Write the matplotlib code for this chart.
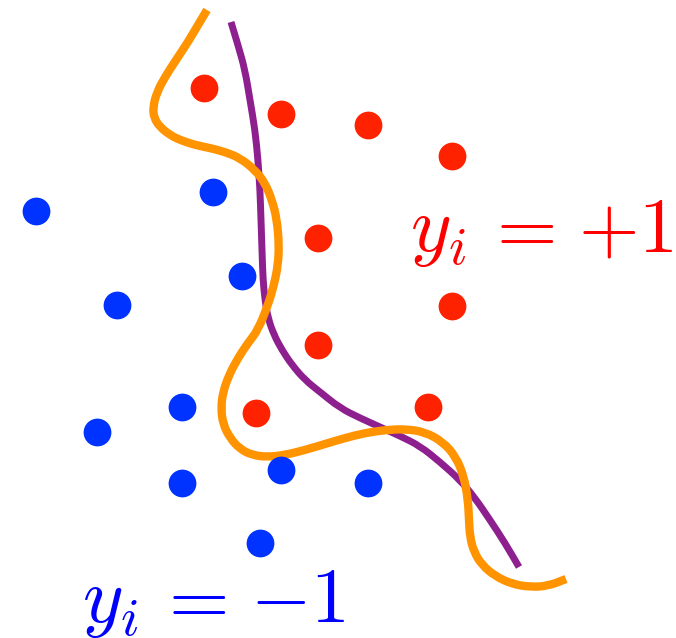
import matplotlib
matplotlib.use("Agg")
import matplotlib.pyplot as plt
from matplotlib.path import Path
from matplotlib.patches import PathPatch
import numpy as np

plt.rcParams['mathtext.fontset'] = 'cm'

# points in picture coordinates (x right, y down)
red_x = [204, 281, 368, 452, 318, 452, 318, 256, 428]
red_y = [88, 114, 125, 156, 238, 306, 345, 413, 407]
blue_x = [36, 213, 242, 117, 182, 97, 182, 281, 368, 260]
blue_y = [211, 192, 276, 305, 407, 432, 483, 470, 483, 543]

# purple boundary
purple_x = [231, 238, 245, 250, 255, 258, 260, 261, 262, 263, 265, 268, 274, 282, 292, 305, 320, 340, 360, 380, 400, 420, 440, 460, 475, 490, 505, 519]
purple_y = [22, 45, 70, 100, 130, 160, 190, 220, 250, 280, 300, 318, 335, 350, 365, 380, 392, 408, 418, 427, 436, 446, 462, 480, 498, 520, 543, 567]

# orange boundary
orange_x = [207, 198, 188, 176, 165, 157, 153, 154, 160, 170, 180, 195, 210, 225, 240, 255, 265, 272, 277, 279, 278, 274, 268, 258, 248, 238, 229, 223, 221, 223, 230, 240, 252, 267, 285, 305, 325, 345, 365, 385, 405, 425, 443, 456, 464, 468, 469, 470, 474, 482, 495, 512, 530, 548, 566]
orange_y = [10, 25, 42, 60, 77, 92, 107, 118, 127, 135, 140, 145, 148, 152, 158, 170, 183, 200, 220, 245, 265, 285, 305, 330, 343, 358, 375, 392, 408, 424, 438, 449, 455, 457, 455, 450, 444, 438, 433, 430, 429, 432, 442, 457, 477, 500, 520, 537, 552, 565, 576, 584, 587, 586, 579]

# label pieces
red_label = [r'$y_i$', r'$=$', r'$+1$']
blue_label = [r'$y_i$', r'$=$', r'$-1$']


def smooth_path(xs, ys):
    # quadratic bezier through midpoints, so the polyline corners are rounded
    pts = np.column_stack([xs, ys]).astype(float)
    verts = [pts[0]]
    codes = [Path.MOVETO]
    for i in range(1, len(pts) - 1):
        mid = (pts[i] + pts[i + 1]) / 2
        verts += [pts[i], mid]
        codes += [Path.CURVE3, Path.CURVE3]
    verts.append(pts[-1])
    codes.append(Path.LINETO)
    return Path(verts, codes)


fig = plt.figure(figsize=(6.76, 6.38), dpi=100)
ax = fig.add_axes([0, 0, 1, 1])
ax.set_xlim(0, 676)
ax.set_ylim(638, 0)
ax.axis('off')

ax.add_patch(PathPatch(smooth_path(purple_x, purple_y), fill=False, edgecolor='#8e1f8f', lw=5, capstyle='butt'))
ax.add_patch(PathPatch(smooth_path(orange_x, orange_y), fill=False, edgecolor='#ff9300', lw=6, capstyle='butt'))

ax.plot(red_x, red_y, 'o', color='#ff2200', ms=20, mec='none')
ax.plot(blue_x, blue_y, 'o', color='#0033ff', ms=20, mec='none')

# LaTeX-like spacing, placed piece by piece
for s, x in zip(red_label, [410, 483, 578]):
    ax.text(x, 251, s, color='#ff0000', fontsize=56, va='baseline', ha='left')
for s, x in zip(blue_label, [82, 155, 250]):
    ax.text(x, 622, s, color='#0000ff', fontsize=56, va='baseline', ha='left')

plt.savefig('out.png', dpi=100)
plt.close()
